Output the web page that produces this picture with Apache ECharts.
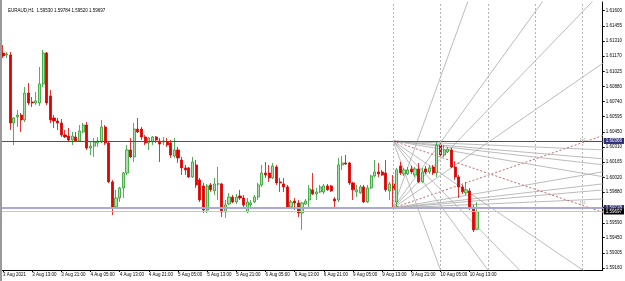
<!DOCTYPE html>
<html>
<head>
<meta charset="utf-8">
<script src="https://cdn.jsdelivr.net/npm/echarts@6/dist/echarts.min.js"></script>
<style>
  html, body { margin: 0; padding: 0; background: #fff; }
  #chart { width: 625px; height: 281px; }
</style>
</head>
<body>
<div id="chart"></div>
<script>
// symbol / timeframe
var symbol = 'EURAUD,H1';

// H1 bars, [open, close, low, high]
var candles = [
  [1.61198, 1.61170, 1.61151, 1.61274], [1.61179, 1.61189, 1.61151, 1.61208], [1.61179, 1.60535, 1.60469, 1.61208],
  [1.60535, 1.60583, 1.60327, 1.60592], [1.60592, 1.60611, 1.60497, 1.60658], [1.60611, 1.60564, 1.60450, 1.60630],
  [1.60564, 1.60819, 1.60545, 1.60876], [1.60819, 1.60725, 1.60706, 1.60914], [1.60734, 1.60725, 1.60687, 1.60781],
  [1.60725, 1.60744, 1.60706, 1.60829], [1.60725, 1.60905, 1.60696, 1.61066], [1.60905, 1.61198, 1.60876, 1.61227],
  [1.61198, 1.60725, 1.60706, 1.61208], [1.60791, 1.60564, 1.60535, 1.60848], [1.60583, 1.60554, 1.60488, 1.60611],
  [1.60554, 1.60535, 1.60469, 1.60583], [1.60535, 1.60422, 1.60403, 1.60573], [1.60422, 1.60403, 1.60393, 1.60469],
  [1.60412, 1.60374, 1.60355, 1.60488], [1.60374, 1.60412, 1.60327, 1.60450], [1.60403, 1.60365, 1.60355, 1.60450],
  [1.60365, 1.60459, 1.60355, 1.60516], [1.60450, 1.60516, 1.60440, 1.60535], [1.60516, 1.60298, 1.60280, 1.60545],
  [1.60298, 1.60317, 1.60232, 1.60355], [1.60317, 1.60355, 1.60214, 1.60393], [1.60346, 1.60365, 1.60308, 1.60403],
  [1.60355, 1.60497, 1.60346, 1.60564], [1.60497, 1.60346, 1.60327, 1.60516], [1.60346, 1.59977, 1.59968, 1.60355],
  [1.59977, 1.59740, 1.59664, 1.59996], [1.59740, 1.59825, 1.59730, 1.59902], [1.59825, 1.59920, 1.59787, 1.59930],
  [1.59920, 1.60062, 1.59825, 1.60072], [1.60062, 1.60280, 1.60043, 1.60327], [1.60280, 1.60214, 1.60204, 1.60393],
  [1.60214, 1.60478, 1.60166, 1.60535], [1.60478, 1.60450, 1.60440, 1.60583], [1.60478, 1.60403, 1.60374, 1.60497],
  [1.60403, 1.60346, 1.60327, 1.60422], [1.60346, 1.60393, 1.60280, 1.60403], [1.60355, 1.60403, 1.60327, 1.60412],
  [1.60403, 1.60374, 1.60346, 1.60412], [1.60365, 1.60336, 1.60166, 1.60393], [1.60355, 1.60365, 1.60327, 1.60403],
  [1.60355, 1.60327, 1.60308, 1.60393], [1.60346, 1.60232, 1.60204, 1.60374], [1.60223, 1.60280, 1.60204, 1.60393],
  [1.60280, 1.60204, 1.60157, 1.60308], [1.60185, 1.60110, 1.60043, 1.60214], [1.60110, 1.60091, 1.60043, 1.60138],
  [1.60110, 1.60024, 1.60015, 1.60119], [1.60024, 1.60166, 1.60015, 1.60214], [1.60138, 1.59949, 1.59920, 1.60185],
  [1.59996, 1.59806, 1.59787, 1.60015], [1.59939, 1.59711, 1.59683, 1.59968], [1.59711, 1.59939, 1.59683, 1.59958],
  [1.59949, 1.59902, 1.59883, 1.59968], [1.59892, 1.59958, 1.59854, 1.60015], [1.59958, 1.59958, 1.59806, 1.60119],
  [1.59958, 1.59692, 1.59645, 1.59968], [1.59692, 1.59759, 1.59636, 1.59806], [1.59768, 1.59834, 1.59759, 1.59872],
  [1.59834, 1.59787, 1.59778, 1.59854], [1.59787, 1.59834, 1.59768, 1.59863], [1.59844, 1.59825, 1.59806, 1.59902],
  [1.59825, 1.59759, 1.59740, 1.59854], [1.59692, 1.59787, 1.59683, 1.59825], [1.59759, 1.59778, 1.59740, 1.59806],
  [1.59787, 1.59834, 1.59778, 1.59854], [1.59834, 1.59949, 1.59806, 1.59968], [1.59949, 1.60062, 1.59930, 1.60138],
  [1.60062, 1.60043, 1.60015, 1.60166], [1.60062, 1.60015, 1.59977, 1.60138], [1.60015, 1.60128, 1.60005, 1.60157],
  [1.60119, 1.59968, 1.59949, 1.60138], [1.59977, 1.59968, 1.59882, 1.60015], [1.59958, 1.59930, 1.59882, 1.60015],
  [1.59930, 1.59740, 1.59730, 1.59949], [1.59740, 1.59787, 1.59721, 1.59806], [1.59796, 1.59778, 1.59711, 1.59825],
  [1.59778, 1.59683, 1.59645, 1.59806], [1.59683, 1.59778, 1.59522, 1.59787], [1.59768, 1.59796, 1.59759, 1.59815],
  [1.59806, 1.59911, 1.59740, 1.59949], [1.59902, 1.59863, 1.59854, 1.60062], [1.59863, 1.59882, 1.59806, 1.59920],
  [1.59882, 1.59930, 1.59872, 1.59949], [1.59882, 1.59939, 1.59863, 1.59958], [1.59939, 1.59902, 1.59892, 1.59958],
  [1.59939, 1.59892, 1.59882, 1.59949], [1.59815, 1.59796, 1.59730, 1.59834], [1.59806, 1.60138, 1.59787, 1.60204],
  [1.60138, 1.60157, 1.60091, 1.60223], [1.60157, 1.60147, 1.60138, 1.60232], [1.60157, 1.59968, 1.59949, 1.60166],
  [1.59968, 1.59902, 1.59806, 1.59977], [1.59883, 1.59902, 1.59835, 1.59949], [1.59873, 1.59930, 1.59863, 1.59949],
  [1.59930, 1.59787, 1.59778, 1.59949], [1.59787, 1.59920, 1.59778, 1.59949], [1.59920, 1.60034, 1.59911, 1.60043],
  [1.60034, 1.60072, 1.60024, 1.60185], [1.60072, 1.60053, 1.60024, 1.60157], [1.60072, 1.60043, 1.60034, 1.60091],
  [1.60062, 1.59902, 1.59883, 1.60185], [1.59892, 1.59958, 1.59806, 1.59977], [1.59958, 1.59902, 1.59740, 1.60043],
  [1.59787, 1.60091, 1.59740, 1.60110], [1.60128, 1.60062, 1.60043, 1.60166], [1.60053, 1.60091, 1.60034, 1.60110],
  [1.60053, 1.60091, 1.60043, 1.60119], [1.60100, 1.60072, 1.60053, 1.60128], [1.60043, 1.60100, 1.60024, 1.60119],
  [1.60100, 1.59977, 1.59968, 1.60157], [1.59977, 1.60072, 1.59968, 1.60110], [1.60100, 1.60072, 1.60053, 1.60128],
  [1.60072, 1.60110, 1.60053, 1.60138], [1.60119, 1.60062, 1.60043, 1.60138], [1.60062, 1.60327, 1.60024, 1.60355],
  [1.60327, 1.60232, 1.60214, 1.60346], [1.60232, 1.60280, 1.60214, 1.60327], [1.60261, 1.60289, 1.60251, 1.60308],
  [1.60280, 1.60119, 1.60110, 1.60298], [1.60119, 1.60024, 1.59996, 1.60166], [1.60024, 1.59930, 1.59825, 1.60043],
  [1.59930, 1.59883, 1.59863, 1.59949], [1.59873, 1.59902, 1.59854, 1.59977], [1.59892, 1.59730, 1.59711, 1.59920],
  [1.59730, 1.59522, 1.59503, 1.59759], [1.59530, 1.59697, 1.59520, 1.59784]
];

// time labels, one every 8 bars
var xTickLabels = ['3 Aug 2021', '3 Aug 13:00', '3 Aug 21:00', '4 Aug 05:00', '4 Aug 13:00', '4 Aug 21:00',
  '5 Aug 05:00', '5 Aug 13:00', '5 Aug 21:00', '6 Aug 05:00', '6 Aug 13:00', '6 Aug 21:00',
  '9 Aug 05:00', '9 Aug 13:00', '9 Aug 21:00', '10 Aug 05:00', '10 Aug 13:00'];
var barsPerLabel = 8;
var slotCount = 165; // visible bar slots incl. empty space on the right

// price scale labels
var yTickValues = [1.59160, 1.59305, 1.59450, 1.59590, 1.59735, 1.59880, 1.60020, 1.60165, 1.60310,
  1.60450, 1.60595, 1.60740, 1.60880, 1.61025, 1.61170, 1.61310, 1.61455, 1.61600];
var yMin = 1.59143;
var yMax = 1.61681;

// horizontal lines: level, label
var hLevels = [1.60365, 1.59730];
var hLabels = ['1.60366', '1.59728'];

// dotted time lines (bar index)
var timeLines = [107, 120, 133, 146, 159];

// gann fans: anchor bar/price, 1x1 point bar/price
var fanUp = { bar: 107, price: 1.59730, bar1: 159, price1: 1.60350 };
var fanDown = { bar: 107, price: 1.60365, bar1: 159, price1: 1.59754 };
var fanRatios = [1 / 8, 1 / 4, 1 / 3, 1 / 2, 1, 2, 3, 4, 8];

var categories = [];
for (var i = 0; i < slotCount; i++) {
  categories.push(i % barsPerLabel === 0 && xTickLabels[i / barsPerLabel] ? xTickLabels[i / barsPerLabel] : '');
}

var last = candles[candles.length - 1];
var header = symbol + '  ' + [last[0], last[3], last[2], last[1]].map(function (v) { return v.toFixed(5); }).join(' ');

var fontFam = 'Liberation Sans, Arial, sans-serif';

function priceTag(text, bg) {
  return {
    show: true, position: 'end', formatter: text, distance: 1,
    color: '#fff', backgroundColor: bg, fontSize: 4.5, fontFamily: fontFam,
    padding: [1, 2, 0, 2]
  };
}

// horizontal + time lines, kept on their own line series
var levelMarks = {
  silent: true,
  symbol: 'none',
  animation: false,
  precision: 5,
  data: [
    { yAxis: hLevels[0], lineStyle: { color: '#4b4b7d', width: 1.2, type: 'solid' }, label: priceTag(hLabels[0], '#2f2f78') },
    { yAxis: hLevels[1], lineStyle: { color: '#a9a9d4', width: 2, type: 'solid' }, label: priceTag(hLabels[1], '#2f2f78') },
    { yAxis: last[1], lineStyle: { color: '#c8c8c8', width: 1, type: 'solid' }, label: priceTag(last[1].toFixed(5), '#000') }
  ].concat(timeLines.map(function (b) {
    return { xAxis: b, lineStyle: { color: '#b5b5b5', width: 1, type: [2, 2] }, label: { show: false } };
  }))
};

function fanSeries(fan) {
  var slope = (fan.price1 - fan.price) / (fan.bar1 - fan.bar);
  var reach = 120;
  return fanRatios.map(function (r) {
    var isMain = r === 1;
    var s = {
      type: 'line',
      symbol: 'none',
      silent: true,
      clip: true,
      z: 3,
      lineStyle: {
        width: isMain ? 1 : 0.8,
        color: isMain ? '#cc6666' : '#a9a9a9',
        type: isMain ? [2, 2] : 'solid'
      },
      data: [[fan.bar, fan.price], [fan.bar + reach, fan.price + r * slope * reach]]
    };
    if (isMain) {
      s.markPoint = {
        symbol: 'circle', symbolSize: 0, silent: true, animation: false,
        label: { show: true, formatter: '1x1', position: 'top', distance: 1, fontSize: 4, color: '#999', fontFamily: fontFam },
        data: [{ coord: [fan.bar1, fan.price1] }]
      };
    }
    return s;
  });
}

var chart = echarts.init(document.getElementById('chart'));

var series = [
  {
    type: 'candlestick',
    data: candles,
    barWidth: 2.6,
    z: 4,
    itemStyle: {
      color: '#a8e0a8',
      color0: '#e00000',
      borderColor: '#2a9d2a',
      borderColor0: '#e00000',
      borderWidth: 0.8
    }
  },
  {
    type: 'line',
    symbol: 'none',
    silent: true,
    z: 2,
    lineStyle: { opacity: 0 },
    data: [[0, last[1]], [slotCount - 1, last[1]]],
    markLine: levelMarks
  }
].concat(fanSeries(fanUp), fanSeries(fanDown));

var option = {
  animation: false,
  backgroundColor: '#fff',
  title: {
    text: header,
    left: 3, top: 3,
    textStyle: { fontSize: 4.5, fontWeight: 'normal', color: '#000', fontFamily: fontFam }
  },
  grid: { left: 1, right: 22, top: 2, bottom: 11, containLabel: false },
  xAxis: {
    type: 'category',
    data: categories,
    boundaryGap: true,
    axisLine: { show: true, lineStyle: { color: '#000', width: 1 } },
    axisTick: {
      show: true, length: 2, alignWithLabel: true,
      interval: function (idx, val) { return val !== ''; },
      lineStyle: { color: '#000' }
    },
    axisLabel: {
      interval: function (idx, val) { return val !== ''; },
      align: 'left',
      margin: 2,
      fontSize: 4.5,
      color: '#000',
      fontFamily: fontFam
    },
    splitLine: { show: false }
  },
  yAxis: {
    type: 'value',
    position: 'right',
    min: yMin,
    max: yMax,
    axisLine: { show: true, lineStyle: { color: '#000', width: 1 } },
    axisTick: { show: true, length: 2, customValues: yTickValues, lineStyle: { color: '#000' } },
    axisLabel: {
      customValues: yTickValues,
      formatter: function (v) { return v.toFixed(5); },
      margin: 3,
      fontSize: 4.5,
      color: '#000',
      fontFamily: fontFam
    },
    splitLine: { show: false }
  },
  graphic: [
    { type: 'rect', shape: { x: 0, y: 0, width: 2, height: 281 }, style: { fill: '#9a9a9a' }, z: 100 }
  ],
  series: series
};

chart.setOption(option);
</script>
</body>
</html>
